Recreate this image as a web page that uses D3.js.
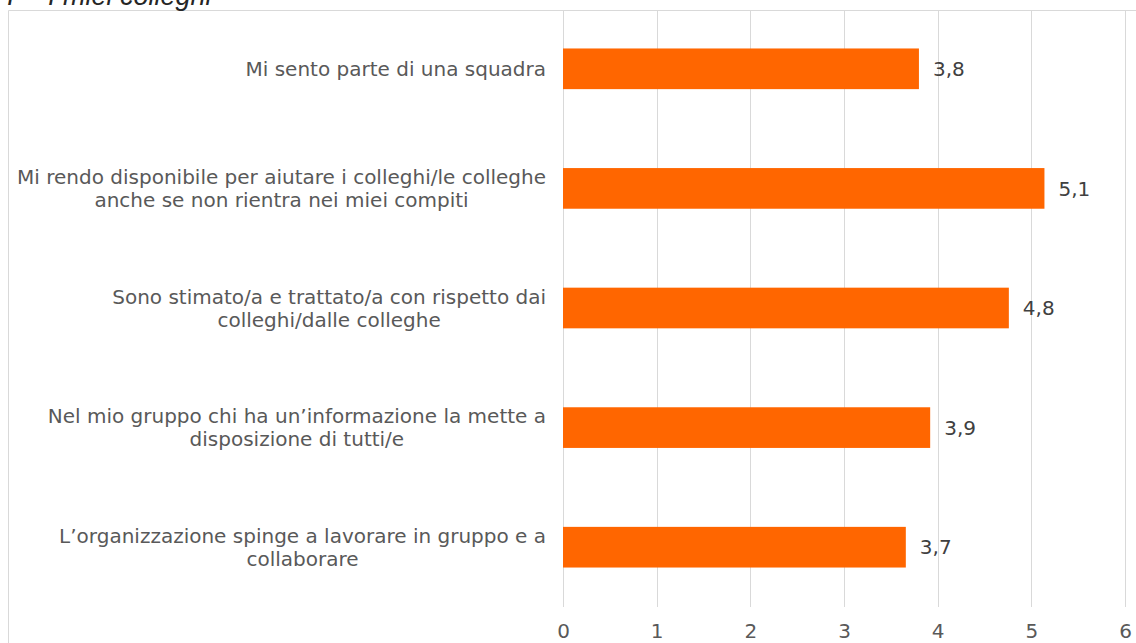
<!DOCTYPE html>
<html>
<head>
<meta charset="utf-8">
<script src="https://cdn.jsdelivr.net/npm/d3@7"></script>
<style>
  html, body { margin: 0; padding: 0; background: #fff; }
  svg { display: block; }
</style>
</head>
<body>
<svg id="chart" width="1136" height="643"></svg>
<script>
// Survey section: average agreement scores
const titleParts = ["I –", "I miei colleghi"];
const categories = [
  ["Mi sento parte di una squadra"],
  ["Mi rendo disponibile per aiutare i colleghi/le colleghe", "anche se non rientra nei miei compiti"],
  ["Sono stimato/a e trattato/a con rispetto dai", "colleghi/dalle colleghe"],
  ["Nel mio gruppo chi ha un’informazione la mette a", "disposizione di tutti/e"],
  ["L’organizzazione spinge a lavorare in gruppo e a", "collaborare"]
];
const values = [3.80, 5.14, 4.76, 3.92, 3.66];
const xTicks = [0, 1, 2, 3, 4, 5, 6];

const svg = d3.select("#chart");
const frame = { left: 8.5, top: 10.5 };
const plot = { left: 563, right: 1125, top: 9, bottom: 607 };
const font = "DejaVu Sans, Verdana, sans-serif";

// Outer chart frame (right and bottom edges fall outside the view)
svg.append("path")
  .attr("d", `M${frame.left},650 V${frame.top} H1140`)
  .attr("fill", "none")
  .attr("stroke", "#d9d9d9")
  .attr("stroke-width", 1);

// Section title (partially above the visible area)
const title = svg.append("text")
  .attr("y", 5)
  .attr("font-family", "Liberation Sans, Arial, sans-serif")
  .attr("font-style", "italic")
  .attr("font-size", 27)
  .attr("fill", "#262626");
title.append("tspan").attr("x", 7).text(titleParts[0]);
title.append("tspan").attr("x", 48).text(titleParts[1]);

const x = d3.scaleLinear().domain([0, 6]).range([plot.left, plot.right]);
const y = d3.scaleBand()
  .domain(d3.range(categories.length))
  .range([plot.top, plot.bottom])
  .paddingInner(0.66)
  .paddingOuter(0.33);

// Vertical gridlines
svg.append("g")
  .selectAll("line")
  .data(xTicks)
  .join("line")
  .attr("x1", d => Math.round(x(d)) + 0.5)
  .attr("x2", d => Math.round(x(d)) + 0.5)
  .attr("y1", plot.top + 2)
  .attr("y2", plot.bottom)
  .attr("stroke", "#d9d9d9")
  .attr("stroke-width", 1);

// Bottom axis labels
const xAxis = d3.axisBottom(x).tickValues(xTicks).tickSize(0).tickPadding(17).tickFormat(d3.format("d"));
const gx = svg.append("g").attr("transform", `translate(0,${plot.bottom})`).call(xAxis);
gx.select(".domain").remove();
gx.selectAll("text")
  .attr("font-family", font)
  .attr("font-size", 20)
  .attr("fill", "#595959");

// Bars
svg.append("g")
  .selectAll("rect")
  .data(values)
  .join("rect")
  .attr("x", x(0))
  .attr("y", (d, i) => y(i))
  .attr("width", d => x(d) - x(0))
  .attr("height", y.bandwidth())
  .attr("fill", "#ff6600");

// Value labels
const fmt = v => d3.format(".1f")(v).replace(".", ",");
svg.append("g")
  .selectAll("text")
  .data(values)
  .join("text")
  .attr("x", d => x(d) + 14)
  .attr("y", (d, i) => y(i) + y.bandwidth() / 2)
  .attr("dy", "0.36em")
  .attr("font-family", font)
  .attr("font-size", 20)
  .attr("fill", "#404040")
  .text(fmt);

// Category labels: lines centred within a right-aligned block
const labelRight = 546;
const lineH = 23;
const gl = svg.append("g")
  .attr("font-family", font)
  .attr("font-size", 20)
  .attr("fill", "#595959");

categories.forEach((lines, i) => {
  const cy = y(i) + y.bandwidth() / 2;
  const g = gl.append("g");
  const texts = lines.map((ln, j) =>
    g.append("text")
      .attr("y", cy + (j - (lines.length - 1) / 2) * lineH)
      .attr("dy", "0.36em")
      .attr("text-anchor", "middle")
      .text(ln)
  );
  const w = d3.max(texts, t => t.node().getComputedTextLength());
  texts.forEach(t => t.attr("x", labelRight - w / 2));
});
</script>
</body>
</html>
